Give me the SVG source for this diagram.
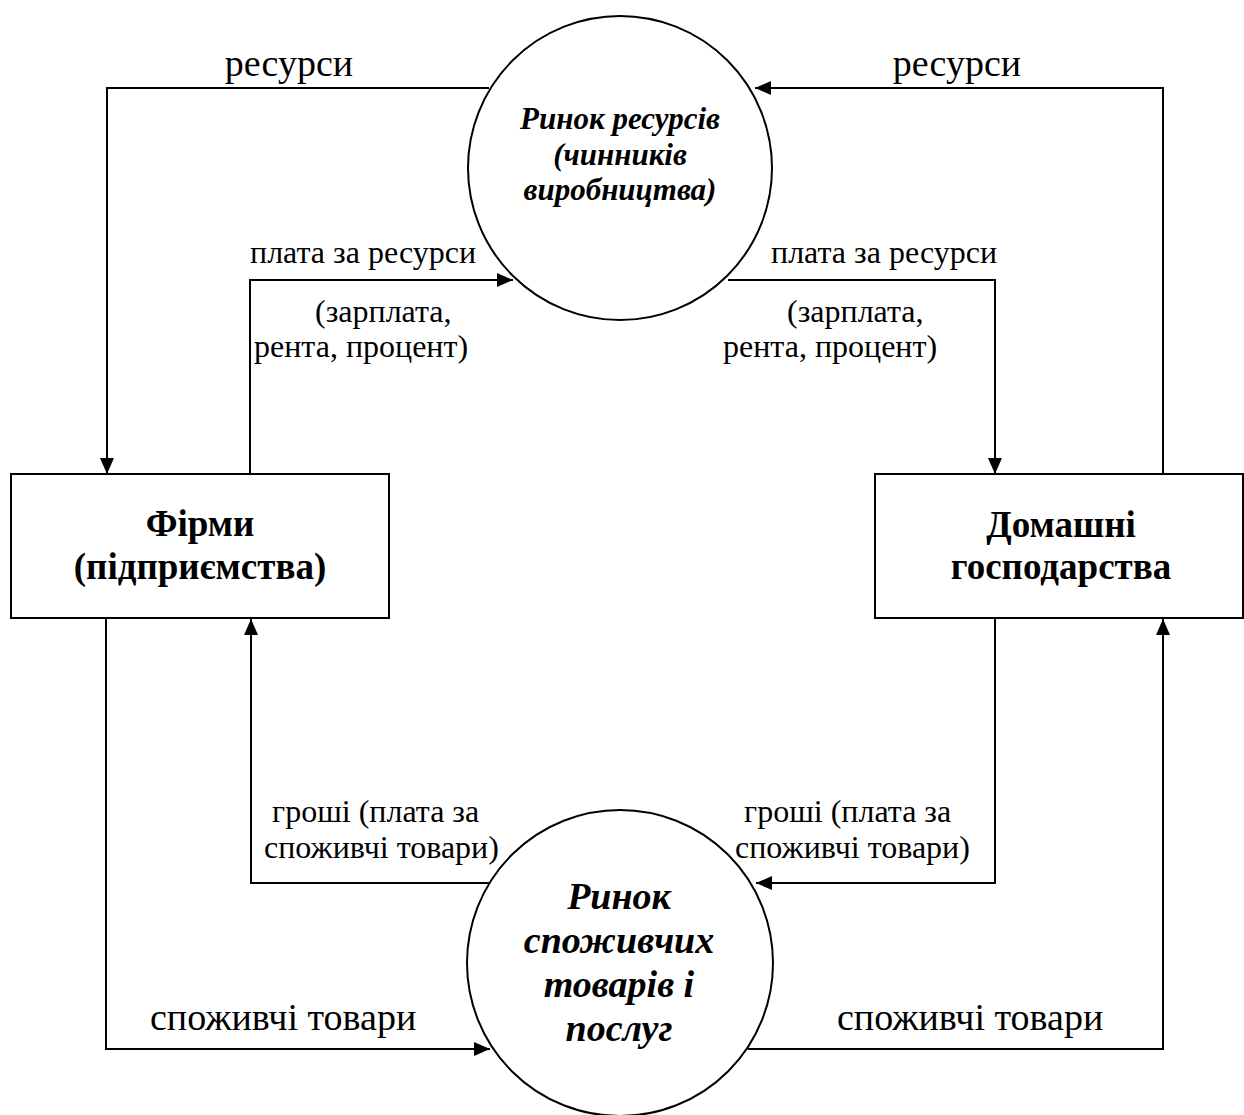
<svg xmlns="http://www.w3.org/2000/svg" width="1244" height="1115" viewBox="0 0 1244 1115">
<style>
.ln{fill:none;stroke:#000;stroke-width:2}
.sh{fill:#fff;stroke:#000;stroke-width:2}
.lb{font-family:"Liberation Serif","Times New Roman",serif;font-size:32px;fill:#000}
.lg{font-family:"Liberation Serif","Times New Roman",serif;font-size:38px;fill:#000}
.bx{font-family:"Liberation Serif","Times New Roman",serif;font-size:37px;font-weight:bold;fill:#000;text-anchor:middle}
.ci{font-family:"Liberation Serif","Times New Roman",serif;font-weight:bold;font-style:italic;fill:#000;text-anchor:middle}
</style>
<defs>
<marker id="ah" viewBox="0 0 16 14" refX="16" refY="7" markerWidth="16" markerHeight="14" markerUnits="userSpaceOnUse" orient="auto">
<path d="M0,0 L16,7 L0,14 Z" fill="#000"/>
</marker>
</defs>
<rect width="1244" height="1115" fill="#fff"/>
<g id="connectors">
<path class="ln" d="M489,88 H107 V474" marker-end="url(#ah)"/>
<path class="ln" d="M1163,474 V88 H755" marker-end="url(#ah)"/>
<path class="ln" d="M250,474 V280 H513" marker-end="url(#ah)"/>
<path class="ln" d="M728,280 H995 V474" marker-end="url(#ah)"/>
<path class="ln" d="M489,883 H251 V619" marker-end="url(#ah)"/>
<path class="ln" d="M995,618 V883 H756" marker-end="url(#ah)"/>
<path class="ln" d="M106,618 V1049 H490" marker-end="url(#ah)"/>
<path class="ln" d="M748,1049 H1163 V619" marker-end="url(#ah)"/>
<text class="lg" x="289" y="76" text-anchor="middle">ресурси</text>
<text class="lg" x="957" y="76" text-anchor="middle">ресурси</text>
<text class="lb" x="250" y="263">плата за ресурси</text>
<text class="lb" x="315" y="322">(зарплата,</text>
<text class="lb" x="254" y="357">рента, процент)</text>
<text class="lb" x="771" y="263">плата за ресурси</text>
<text class="lb" x="787" y="322">(зарплата,</text>
<text class="lb" x="723" y="357">рента, процент)</text>
<text class="lb" x="272" y="822">гроші (плата за</text>
<text class="lb" x="264" y="858">споживчі товари)</text>
<text class="lb" x="744" y="822">гроші (плата за</text>
<text class="lb" x="735" y="858">споживчі товари)</text>
<text class="lg" x="150" y="1030">споживчі товари</text>
<text class="lg" x="837" y="1030">споживчі товари</text>
</g>
<g id="resource-market">
<circle class="sh" cx="620" cy="168" r="152"/>
<text class="ci" font-size="31" x="620" y="129">Ринок ресурсів</text>
<text class="ci" font-size="31" x="620" y="165">(чинників</text>
<text class="ci" font-size="31" x="620" y="200">виробництва)</text>
</g>
<g id="goods-market">
<circle class="sh" cx="620" cy="963" r="153"/>
<text class="ci" font-size="38" x="619" y="909">Ринок</text>
<text class="ci" font-size="38" x="619" y="953">споживчих</text>
<text class="ci" font-size="38" x="619" y="997">товарів і</text>
<text class="ci" font-size="38" x="619" y="1041">послуг</text>
</g>
<g id="firms">
<rect class="sh" x="11" y="474" width="378" height="144"/>
<text class="bx" x="200" y="536">Фірми</text>
<text class="bx" x="200" y="579">(підприємства)</text>
</g>
<g id="households">
<rect class="sh" x="875" y="474" width="368" height="144"/>
<text class="bx" x="1061" y="537">Домашні</text>
<text class="bx" x="1061" y="579">господарства</text>
</g>
</svg>
